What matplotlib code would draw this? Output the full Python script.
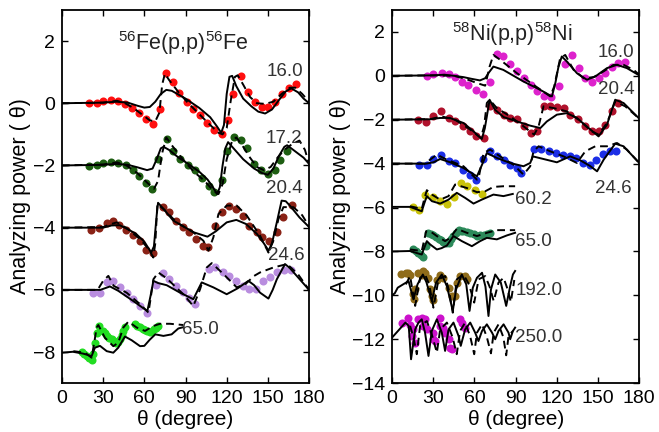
import numpy as np
import matplotlib
matplotlib.use("Agg")
import matplotlib.pyplot as plt

plt.rcParams['font.family'] = ['Liberation Sans', 'DejaVu Sans']
plt.rcParams['mathtext.fontset'] = 'custom'
plt.rcParams['mathtext.rm'] = 'Liberation Sans'
plt.rcParams['mathtext.it'] = 'Liberation Sans:italic'

# ---- 56Fe(p,p)56Fe : data points, solid and dashed calculations (offset by -2 each) ----
fe16_pts = [(20, 0.0), (25.3, 0.0), (30.1, 0.07), (35.5, 0.12), (41.1, 0.07), (45.9, -0.01), (50.8, -0.15),
            (56.1, -0.30), (61.2, -0.51), (66.6, -0.66), (71.4, -0.17), (75.8, 0.96), (81.1, 0.69), (85.5, 0.34),
            (90.9, 0.04), (95.7, -0.17), (100.6, -0.39), (105.9, -0.62), (111.0, -0.85), (116.4, -0.98),
            (121.2, -0.55), (124.9, 0.31), (130.5, 0.87), (135.8, 0.37), (140.7, 0.04), (145.5, -0.12),
            (150.4, -0.12), (155.2, 0.04), (160.1, 0.31), (165.7, 0.50), (170.6, 0.61)]
fe16_solid = [(0, 0), (30, 0.02), (40, 0.05), (48, 0.02), (55, -0.08), (60, -0.14), (64, -0.12), (68, 0.05),
              (72, 0.3), (76, 0.43), (80, 0.4), (90, 0.15), (100, -0.15), (108, -0.45), (113, -0.75), (116, -0.95),
              (118, -0.7), (120, 0.3), (122, 0.85), (124, 0.88), (127, 0.55), (132, 0.15), (138, -0.1),
              (143, -0.27), (148, -0.33), (153, -0.2), (158, 0.1), (163, 0.38), (167, 0.48), (172, 0.35),
              (176, 0.15), (180, 0.0)]
fe16_dash = [(0, 0), (30, 0.02), (40, 0.08), (46, 0.0), (52, -0.15), (58, -0.35), (64, -0.55), (68, -0.58),
             (71, -0.3), (73, 0.6), (75, 0.95), (78, 0.75), (85, 0.35), (92, 0.0), (100, -0.35), (108, -0.7),
             (114, -0.95), (117, -1.0), (120, -0.8), (123, 0.1), (126, 0.85), (128, 0.9), (132, 0.6), (137, 0.2),
             (142, 0.0), (148, -0.02), (154, 0.05), (160, 0.3), (166, 0.5), (170, 0.5), (175, 0.3), (180, 0.05)]

fe17_pts = [(19.9, -2.03), (25.3, -2.0), (30.1, -1.92), (36, -1.89), (41.1, -1.91), (46.7, -2.0), (51.5, -2.16),
            (56.4, -2.35), (61.3, -2.57), (65.3, -2.75), (70.2, -1.79), (76.3, -1.14), (81.1, -1.52), (86, -1.79),
            (92, -2.0), (96.9, -2.16), (101.8, -2.41), (107.1, -2.65), (111, -2.86), (116.4, -2.48),
            (120.3, -1.55), (125.5, -1.08), (130.2, -1.19), (135.1, -1.45), (140, -1.94), (144.8, -2.16),
            (150.4, -2.27), (155.2, -2.16), (158.9, -1.84), (164.2, -1.52)]
fe17_solid = [(0, -2), (30, -1.98), (40, -1.95), (48, -1.98), (55, -2.06), (62, -2.15), (66, -2.1), (69, -1.8),
              (72, -1.45), (74, -1.4), (78, -1.5), (85, -1.75), (92, -1.95), (100, -2.2), (106, -2.45),
              (110, -2.7), (113, -2.92), (115, -2.7), (117, -2.0), (119, -1.45), (121, -1.25), (125, -1.45),
              (132, -1.8), (140, -2.1), (146, -2.25), (150, -2.3), (154, -2.1), (158, -1.7), (162, -1.4),
              (164, -1.35), (170, -1.55), (176, -1.75), (180, -1.95)]
fe17_dash = [(0, -2), (30, -1.97), (40, -1.9), (47, -2.0), (55, -2.25), (62, -2.55), (67, -2.75), (70, -2.5),
             (73, -1.6), (76, -1.1), (80, -1.35), (88, -1.8), (96, -2.2), (104, -2.5), (110, -2.8), (114, -2.92),
             (117, -2.6), (120, -1.8), (124, -1.2), (127, -1.1), (132, -1.4), (137, -1.75), (142, -2.05),
             (147, -2.15), (152, -2.05), (157, -1.75), (162, -1.5), (168, -1.3), (173, -1.2), (177, -1.5),
             (180, -1.95)]

fe20_pts = [(20.9, -4.07), (27.2, -4.01), (32.6, -3.86), (36.9, -3.77), (41.8, -3.9), (46.6, -4.07),
            (51.5, -4.24), (56.9, -4.44), (61.2, -4.72), (66.5, -4.83), (73.9, -3.32), (78.2, -3.5),
            (83.1, -3.77), (88, -3.97), (92.6, -4.15), (97.7, -4.37), (103, -4.58), (106.7, -4.61),
            (111.5, -3.94), (116.9, -3.5), (121.7, -3.29), (126.8, -3.4), (132.2, -3.61), (136.5, -3.94),
            (141.9, -4.15), (146, -4.31), (150.9, -4.42), (156.9, -4.15), (161.3, -3.67), (167.4, -3.26)]
fe20_solid = [(0, -4), (30, -4.0), (36, -3.93), (42, -3.92), (48, -4.05), (54, -4.2), (60, -4.45), (65, -4.8),
              (67, -4.6), (69, -3.6), (70, -3.2), (74, -3.4), (81, -3.77), (90, -4.0), (96, -4.15),
              (106, -4.29), (112, -4.12), (120, -3.83), (127, -3.75), (134, -3.88), (142, -4.2), (147, -4.5),
              (150.5, -4.74), (153, -4.5), (156.5, -3.83), (160, -3.13), (163, -3.15), (166, -3.29),
              (173, -3.67), (180, -3.98)]
fe20_dash = [(0, -4), (30, -3.98), (36, -3.88), (40, -3.83), (47, -4.01), (57, -4.37), (64, -4.74),
             (66.5, -4.96), (68, -4.5), (69.5, -3.24), (74, -3.4), (83.6, -3.83), (95.7, -4.15), (103, -4.42),
             (106.7, -4.74), (110.3, -4.31), (114, -3.56), (120, -3.29), (127.3, -3.29), (134.6, -3.61),
             (144.3, -4.26), (150.4, -4.8), (154, -4.42), (157.7, -3.72), (161.3, -3.34), (168.6, -3.34),
             (175, -3.6), (180, -3.96)]

fe24_pts = [(22.4, -6.09), (27.7, -6.11), (32.6, -5.74), (36.9, -5.71), (42.3, -5.92), (47.1, -6.09),
            (52, -6.3), (56.9, -6.52), (62.2, -6.75), (68.5, -5.85), (73.9, -5.46), (78.2, -5.66),
            (83.1, -5.87), (88, -6.06), (92.8, -6.25), (97, -6.46), (107.4, -5.33), (111.5, -5.28),
            (117.1, -5.42), (121.9, -5.55), (126.8, -5.71), (131.7, -5.87), (136.5, -5.98), (141.4, -5.98),
            (146.7, -5.71), (151.6, -5.6), (156.5, -5.44), (161.8, -5.36), (166.9, -5.36)]
fe24_solid = [(0, -6), (28, -6.0), (35, -5.89), (41, -6.03), (52, -6.36), (58, -6.55), (62.2, -6.68),
              (64.5, -6.2), (66.6, -5.71), (70, -5.78), (76.3, -5.85), (86, -6.09), (95.7, -6.3), (98.5, -6.05),
              (101.8, -5.76), (110.3, -5.92), (120, -6.14), (128, -5.95), (135.8, -5.71), (140, -5.85),
              (144.3, -6.09), (150.4, -6.28), (153.5, -6.0), (156.5, -5.66), (162.5, -5.17), (166, -5.3),
              (171, -5.55), (180, -6.0)]
fe24_dash = [(0, -6), (26, -6.0), (30, -5.71), (33.8, -5.55), (37.7, -5.87), (47.1, -6.09), (56.9, -6.46),
             (63, -6.73), (64.5, -6.3), (66.6, -5.66), (70.2, -5.44), (76.3, -5.63), (88.4, -6.14),
             (95.7, -6.52), (100.6, -5.98), (105.5, -5.28), (109.1, -5.14), (117.6, -5.49), (127.3, -5.92),
             (134, -5.8), (140, -5.55), (144.3, -5.44), (154, -5.28), (164, -5.17), (172, -5.5), (180, -6.0)]

fe65_pts = [(14.3, -7.99), (16, -8.06), (17.9, -8.13), (19.7, -8.2), (21.6, -8.27), (22.8, -8.05), (24, -7.7),
            (25.3, -7.4), (27.2, -7.16), (29.6, -7.32), (31.1, -7.4), (32.6, -7.48), (34.4, -7.54),
            (36.2, -7.59), (37.8, -7.65), (39.4, -7.7), (41, -7.68), (42.3, -7.59), (43.5, -7.45),
            (44.7, -7.32), (46, -7.2), (53.2, -7.11), (54.9, -7.15), (56.9, -7.19), (58.7, -7.25),
            (60.5, -7.3), (62.3, -7.33), (64.1, -7.34), (65.7, -7.31), (67.3, -7.27), (68.8, -7.21),
            (70.2, -7.16)]
fe65_solid = [(0, -8.02), (8, -7.99), (15.5, -8.05), (21.6, -8.13), (24, -7.86), (27.7, -7.8), (32.6, -7.97),
              (37.4, -8.02), (41, -7.86), (45.9, -7.5), (50.8, -7.62), (56.9, -7.81), (60, -7.8), (64, -7.6),
              (68, -7.43), (73.9, -7.48), (79.9, -7.43), (84.8, -7.24), (88.4, -7.2)]
fe65_dash = [(8.3, -7.97), (16.8, -8.02), (21.6, -8.18), (23.5, -7.7), (25.3, -7.21), (26.5, -7.13),
             (31.3, -7.54), (37.4, -7.81), (41, -7.7), (44.7, -7.21), (48.4, -7.02), (54.4, -7.21),
             (60.5, -7.32), (66.6, -7.16), (71.4, -7.09), (78.7, -7.09), (88.4, -7.13)]

# ---- 58Ni(p,p)58Ni ----
ni16_pts = [(25.3, 0), (30.1, 0.09), (36.2, 0.12), (41.1, 0.09), (45.9, -0.06), (50.8, -0.26), (55.6, -0.41),
            (61, -0.64), (66.1, -0.82), (71.4, -0.26), (76.3, 1.0), (80.6, 0.91), (86, 0.55), (91.3, 0.2),
            (96.2, -0.11), (101, -0.41), (105.9, -0.71), (110.3, -0.94), (115.6, -0.97), (121.2, -0.48),
            (126.1, 0.55), (131, 0.95), (135.8, 0.35), (140.7, -0.11), (145.5, -0.26), (150.4, -0.11),
            (155.2, 0.12), (160.1, 0.42), (164.9, 0.58), (169.8, 0.61)]
ni16_solid = [(0, 0), (30, 0.02), (38, 0.05), (45, 0.0), (52, -0.06), (58, -0.14), (64, -0.21), (67.8, -0.11),
              (70.5, 0.15), (73.8, 0.42), (81, 0.27), (95.7, -0.26), (107.9, -0.64), (116.4, -0.94),
              (119, -0.3), (121.2, 0.42), (123.6, 0.88), (127.3, 0.65), (134.6, 0.12), (141.9, -0.18),
              (148, -0.03), (156.5, 0.35), (163.8, 0.5), (171, 0.35), (180, 0.02)]
ni16_dash = [(0, 0), (30, 0.02), (45, 0.0), (54, -0.15), (61.8, -0.33), (67.8, -0.45), (71, 0.42),
             (73.8, 0.95), (78.7, 0.73), (90.9, 0.12), (103, -0.41), (115.2, -0.94), (118.1, -0.48),
             (122.4, 0.8), (126.1, 0.95), (132.2, 0.27), (139.5, -0.11), (146.8, -0.06), (154, 0.2),
             (161.3, 0.5), (168.6, 0.5), (175.9, 0.27), (180, 0.05)]

ni20_pts = [(19.2, -2.03), (24.8, -2.12), (30.1, -1.82), (35.5, -1.62), (41.1, -1.92), (45.9, -2.08),
            (51.3, -2.27), (56.4, -2.53), (61.3, -2.76), (66.6, -2.83), (71, -1.36), (76.3, -1.55),
            (81.2, -1.77), (86, -1.92), (91.3, -1.97), (96.2, -2.27), (101, -2.61), (105.9, -2.53),
            (110.3, -1.36), (115.2, -1.36), (120, -1.42), (124.9, -1.47), (129.7, -1.77), (135.1, -1.97),
            (140.7, -2.3), (145.5, -2.53), (150.4, -2.53), (155.2, -2.23), (160.1, -1.62), (164.9, -1.24)]
ni20_solid = [(0, -2), (28, -1.98), (35, -1.92), (42, -1.92), (52, -2.15), (59.3, -2.53), (65.3, -2.88),
              (67.5, -2.4), (69, -1.85), (71, -1.09), (75, -1.55), (81.2, -1.88), (91, -2.08), (100.6, -2.27),
              (108, -2.38), (112.7, -2.08), (120, -1.77), (127.3, -1.7), (134.6, -1.92), (143.1, -2.38),
              (150.4, -2.76), (156.5, -2.23), (162.5, -1.09), (168.6, -1.24), (180, -1.95)]
ni20_dash = [(0, -2), (28, -1.97), (36.2, -1.85), (45.9, -2.0), (56.9, -2.45), (64.6, -2.83), (67, -2.3),
             (69, -1.24), (71, -1.09), (76.3, -1.47), (86, -1.85), (95.7, -2.3), (103.5, -2.68), (106.7, -2.3),
             (110.3, -1.39), (117.6, -1.47), (127.3, -1.62), (135.8, -2.0), (145.5, -2.53), (150.4, -2.68),
             (156.5, -2.15), (162.5, -1.17), (169.8, -1.39), (180, -1.95)]

ni24_pts = [(19.9, -4.05), (25.3, -4.05), (30.1, -3.79), (35.5, -3.59), (41.1, -3.89), (45.9, -3.97),
            (51.5, -4.27), (56.4, -4.5), (61.3, -4.76), (66.1, -3.79), (71, -3.44), (76.3, -3.67),
            (81.2, -3.82), (86, -4.05), (90.9, -4.2), (93.8, -4.42), (103.5, -3.33), (108.4, -3.33),
            (114, -3.44), (119.6, -3.52), (124.4, -3.59), (129.3, -3.67), (134.2, -3.74), (139, -3.97),
            (143.9, -4.05), (148.8, -3.82), (153.6, -3.55), (158.5, -3.44), (163.4, -3.41)]
ni24_solid = [(0, -4), (25, -4.0), (30.1, -3.94), (35, -3.79), (42.3, -3.94), (52, -4.2), (61.8, -4.58),
              (65.5, -4.05), (69, -3.52), (76.3, -3.74), (86, -3.97), (95.7, -4.12), (100.6, -3.97),
              (102.5, -3.67), (110.3, -3.79), (120, -3.94), (129.7, -3.67), (137.1, -3.85), (144, -4.1),
              (149.3, -4.35), (154.1, -3.82), (162.5, -3.09), (168.6, -3.21), (180, -3.97)]
ni24_dash = [(0, -4), (24, -4.0), (27.7, -3.82), (32.6, -3.59), (39.9, -3.82), (52, -4.12), (61.8, -4.73),
             (63.5, -4.5), (66.6, -3.52), (71.4, -3.36), (78.7, -3.67), (88.4, -4.05), (95.7, -4.5),
             (100.6, -4.12), (103, -3.44), (106.7, -3.21), (115.2, -3.44), (124.9, -3.67), (134.6, -3.97),
             (140.7, -3.44), (148, -3.21), (156.5, -3.21), (163.8, -3.06), (171, -3.36), (180, -3.97)]

ni60_pts = [(15, -5.97), (19.9, -6.12), (24, -5.41), (30.1, -5.52), (35, -5.71), (40.3, -5.82), (45.2, -5.52),
            (50, -4.88), (54.9, -5.0), (60.5, -5.21), (65.3, -5.38)]
ni60_solid = [(0, -5.97), (13.1, -5.97), (21.6, -6.17), (23.5, -5.8), (25.3, -5.48), (29, -5.71), (35, -5.82),
              (41.1, -5.64), (47.1, -5.33), (53.2, -5.56), (59.3, -5.82), (65.3, -5.64), (73.8, -5.41),
              (81.1, -5.48), (87.9, -5.38)]
ni60_dash = [(13.1, -5.94), (21.6, -6.06), (23.5, -5.6), (25.3, -5.21), (29, -5.41), (35, -5.64),
             (41.1, -5.48), (45.9, -4.95), (54.4, -5.11), (61.8, -5.3), (67.8, -5.26), (73.8, -5.06),
             (81.1, -5.03), (89.6, -5.03)]

ni65_pts = [(15.5, -7.91), (17.3, -7.98), (19.2, -8.06), (20.8, -8.15), (22.4, -8.24), (24.8, -7.76),
            (26.5, -7.15), (28.3, -7.19), (30.1, -7.23), (32, -7.33), (33.8, -7.42), (35.6, -7.5),
            (37.4, -7.58), (39.3, -7.6), (41.1, -7.61), (42.9, -7.45), (44.7, -7.3), (46.5, -7.15),
            (48.4, -7.03), (50.2, -7.05), (52, -7.08), (54.5, -7.12), (56.9, -7.15), (59.4, -7.22),
            (61.8, -7.3), (64.2, -7.27), (66.6, -7.23), (69, -7.19), (71.4, -7.15)]
ni65_solid = [(0, -8), (13.1, -7.98), (21.6, -8.14), (25.3, -7.53), (27.7, -7.68), (32.6, -7.91), (36, -7.85),
              (39.9, -7.73), (44.7, -7.3), (50.8, -7.53), (58.1, -7.76), (64.1, -7.53), (69, -7.38),
              (76.3, -7.45), (83.6, -7.27), (89.6, -7.15)]
ni65_dash = [(13.1, -7.91), (21.6, -7.98), (24.8, -7.08), (27.7, -7.08), (32.6, -7.3), (38.6, -7.53),
             (42.3, -7.38), (47.1, -6.97), (54.4, -7.15), (61.8, -7.3), (69, -7.15), (76.3, -7.03),
             (83.6, -7.03), (89.6, -7.03)]

ni192_pts = [(6.4, -9.04), (10.3, -9.0), (11.4, -8.97), (13.1, -9.05), (15.5, -9.95), (16, -10.15),
             (16.8, -9.73), (19.2, -8.97), (21.6, -9.05), (22.8, -8.89), (24, -9.0), (26.5, -9.2),
             (27.7, -9.73), (28.9, -10.03), (30.1, -10.2), (32.6, -9.3), (35, -9.05), (37.4, -9.2),
             (41.1, -9.65), (43.5, -10.03), (46, -10.03), (47.1, -9.42), (49.5, -9.12), (53.2, -9.12),
             (54.4, -9.27)]
ni192_solid = [(0, -10), (2, -9.9), (4.1, -9.65), (8, -9.5), (12, -9.35), (15.5, -10.18), (18.5, -9.5),
               (22.4, -9.05), (25, -9.4), (28.9, -10.26), (32, -9.42), (36.2, -9.05), (40, -9.6),
               (44.2, -10.71), (46.6, -9.73), (50.8, -9.05), (54, -9.5), (56.4, -10.71), (58.8, -9.65),
               (61.8, -9.2), (65.5, -8.97), (68, -9.6), (70.2, -10.94), (72, -9.73), (75.1, -9.05),
               (79.2, -9.42), (83.1, -10.48), (86, -9.58), (88, -9.05), (89.6, -8.89)]
ni192_dash = [(10, -9.5), (13.1, -9.12), (16.8, -10.48), (20.4, -9.2), (24, -9.05), (27, -9.5),
              (30.1, -10.56), (33.8, -9.27), (38.6, -9.12), (41.5, -9.8), (44.2, -10.79), (47.1, -9.27),
              (52, -9.05), (56, -9.5), (59.8, -10.33), (63, -9.27), (67.8, -9.12), (71, -9.6), (74, -10.26),
              (77.5, -9.42), (81.2, -9.2), (84, -9.7), (86.5, -10.3), (89, -9.3)]

ni250_pts = [(7, -11.24), (11.9, -11.02), (13.1, -11.36), (14.3, -11.85), (15.5, -11.55), (16.8, -12.15),
             (18.5, -11.09), (21.6, -11.02), (22.8, -11.39), (24, -11.09), (25.3, -11.55), (30.1, -11.7),
             (30.1, -12.0), (31.3, -12.08), (35, -11.02), (35, -11.39), (37.4, -11.47), (38.6, -11.7),
             (41.1, -12.0), (42.3, -12.38), (43.5, -12.45), (49.5, -11.09), (50.8, -11.24), (53.2, -11.47)]
ni250_solid = [(0, -11.92), (5.3, -11.55), (9.7, -11.24), (12.1, -11.39), (13.8, -12.91), (16.8, -11.55),
               (19.2, -11.24), (21.6, -11.09), (24, -11.7), (26.5, -12.76), (28.9, -11.62), (32.6, -11.09),
               (36.2, -11.7), (38.6, -12.53), (41.1, -11.55), (44.7, -11.24), (48.4, -11.85), (50, -12.3),
               (53.2, -11.55), (56.9, -11.24), (60.5, -11.7), (62.9, -12.08), (65.5, -11.62), (69, -11.32),
               (72.8, -11.7), (75.1, -12.0), (77.5, -11.62), (81.2, -11.32), (84.8, -11.7), (86, -12.0),
               (88, -11.62), (89.6, -11.47)]
ni250_dash = [(13.1, -11.39), (15.5, -11.9), (18, -12.68), (20.4, -11.39), (25.3, -11.17), (29, -11.8),
              (32.6, -12.61), (35, -11.55), (39.9, -11.24), (44, -11.9), (47.1, -12.68), (49.5, -11.62),
              (53.2, -11.24), (57, -11.9), (59.8, -12.68), (61.8, -11.7), (65.5, -11.32), (69, -11.9),
              (72, -12.64), (74, -11.7), (77.5, -11.32), (81, -11.9), (83.1, -12.73), (84.8, -11.85),
              (88, -11.62)]

fe_sets = [(fe16_pts, fe16_solid, fe16_dash, '#ff1010'),
           (fe17_pts, fe17_solid, fe17_dash, '#1e5e12'),
           (fe20_pts, fe20_solid, fe20_dash, '#8a2216'),
           (fe24_pts, fe24_solid, fe24_dash, '#b98ddf'),
           (fe65_pts, fe65_solid, fe65_dash, '#22dd22')]
ni_sets = [(ni16_pts, ni16_solid, ni16_dash, '#dd22cc'),
           (ni20_pts, ni20_solid, ni20_dash, '#b0122c'),
           (ni24_pts, ni24_solid, ni24_dash, '#1c2ee6'),
           (ni60_pts, ni60_solid, ni60_dash, '#c9c20a'),
           (ni65_pts, ni65_solid, ni65_dash, '#2c8a5a'),
           (ni192_pts, ni192_solid, ni192_dash, '#8f6c1a'),
           (ni250_pts, ni250_solid, ni250_dash, '#cc11cc')]

# energy labels: (text, x, y, ha)
fe_labels = [("16.0", 175.6, 1.01, 'right'), ("17.2", 175.0, -1.14, 'right'), ("20.4", 175.5, -2.75, 'right'),
             ("24.6", 177.0, -4.9, 'right'), ("65.0", 87.2, -7.27, 'left')]
ni_labels = [("16.0", 176.4, 1.05, 'right'), ("20.4", 176.4, -0.64, 'right'), ("24.6", 174.7, -5.15, 'right'),
             ("60.2", 89.7, -5.64, 'left'), ("65.0", 89.7, -7.53, 'left'), ("192.0", 89.7, -9.8, 'left'),
             ("250.0", 89.7, -11.92, 'left')]

fig = plt.figure(figsize=(6.59, 4.32), dpi=100)
ax1 = fig.add_axes([0.094, 0.113, 0.375, 0.864])
ax2 = fig.add_axes([0.595, 0.113, 0.375, 0.864])


def draw(ax, sets, labels):
    for pts, solid, dash, col in sets:
        p = np.array(pts)
        ax.plot(p[:, 0], p[:, 1], 'o', color=col, ms=5.8, mec='none', zorder=2)
        s = np.array(solid)
        ax.plot(s[:, 0], s[:, 1], '-', color='black', lw=1.4, zorder=3)
        d = np.array(dash)
        ax.plot(d[:, 0], d[:, 1], '--', color='black', lw=1.4, dashes=(4, 2.5), zorder=3)
    for txt, x, y, ha in labels:
        ax.text(x, y, txt, ha=ha, va='center', fontsize=13.5, color='#333333')
    ax.set_xlim(0, 180)
    ax.set_xticks(np.arange(0, 181, 30))
    ax.tick_params(direction='in', top=True, right=True, length=4, width=1, labelsize=14, pad=5)
    for sp in ax.spines.values():
        sp.set_linewidth(1.3)
    ax.set_xlabel("θ (degree)", fontsize=15, labelpad=2)
    ax.set_ylabel("Analyzing power ( θ)", fontsize=15.5, labelpad=1)


draw(ax1, fe_sets, fe_labels)
ax1.set_ylim(-9, 3)
ax1.set_yticks(np.arange(-8, 3, 2))
ax1.text(0.49, 0.91, "$^{56}$Fe(p,p)$^{56}$Fe", transform=ax1.transAxes, ha='center', va='center',
         fontsize=15.5, color='#222222')

draw(ax2, ni_sets, ni_labels)
ax2.set_ylim(-14, 3)
ax2.set_yticks(np.arange(-14, 3, 2))
ax2.text(0.486, 0.935, "$^{58}$Ni(p,p)$^{58}$Ni", transform=ax2.transAxes, ha='center', va='center',
         fontsize=15.5, color='#222222')

fig.savefig("out.png", dpi=100)
